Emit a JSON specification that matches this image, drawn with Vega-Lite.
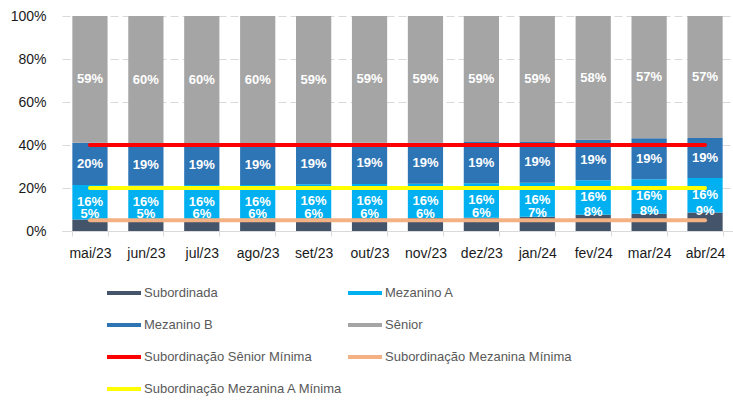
{
  "$schema": "https://vega.github.io/schema/vega-lite/v6.json",
  "width": 671,
  "height": 215,
  "autosize": {"type": "none"},
  "padding": {"left": 62, "top": 16, "right": 0, "bottom": 170},
  "config": {"view": {"stroke": null}, "font": "Liberation Sans"},
  "datasets": {
    "bars": [
      {"month": "mai/23", "series": "Subordinada", "rank": 1, "value": 0.054},
      {"month": "mai/23", "series": "Mezanino A", "rank": 2, "value": 0.160},
      {"month": "mai/23", "series": "Mezanino B", "rank": 3, "value": 0.196},
      {"month": "mai/23", "series": "Sênior", "rank": 4, "value": 0.590},
      {"month": "jun/23", "series": "Subordinada", "rank": 1, "value": 0.054},
      {"month": "jun/23", "series": "Mezanino A", "rank": 2, "value": 0.158},
      {"month": "jun/23", "series": "Mezanino B", "rank": 3, "value": 0.192},
      {"month": "jun/23", "series": "Sênior", "rank": 4, "value": 0.596},
      {"month": "jul/23", "series": "Subordinada", "rank": 1, "value": 0.056},
      {"month": "jul/23", "series": "Mezanino A", "rank": 2, "value": 0.158},
      {"month": "jul/23", "series": "Mezanino B", "rank": 3, "value": 0.190},
      {"month": "jul/23", "series": "Sênior", "rank": 4, "value": 0.596},
      {"month": "ago/23", "series": "Subordinada", "rank": 1, "value": 0.057},
      {"month": "ago/23", "series": "Mezanino A", "rank": 2, "value": 0.157},
      {"month": "ago/23", "series": "Mezanino B", "rank": 3, "value": 0.189},
      {"month": "ago/23", "series": "Sênior", "rank": 4, "value": 0.597},
      {"month": "set/23", "series": "Subordinada", "rank": 1, "value": 0.058},
      {"month": "set/23", "series": "Mezanino A", "rank": 2, "value": 0.160},
      {"month": "set/23", "series": "Mezanino B", "rank": 3, "value": 0.191},
      {"month": "set/23", "series": "Sênior", "rank": 4, "value": 0.591},
      {"month": "out/23", "series": "Subordinada", "rank": 1, "value": 0.059},
      {"month": "out/23", "series": "Mezanino A", "rank": 2, "value": 0.160},
      {"month": "out/23", "series": "Mezanino B", "rank": 3, "value": 0.192},
      {"month": "out/23", "series": "Sênior", "rank": 4, "value": 0.589},
      {"month": "nov/23", "series": "Subordinada", "rank": 1, "value": 0.060},
      {"month": "nov/23", "series": "Mezanino A", "rank": 2, "value": 0.160},
      {"month": "nov/23", "series": "Mezanino B", "rank": 3, "value": 0.192},
      {"month": "nov/23", "series": "Sênior", "rank": 4, "value": 0.588},
      {"month": "dez/23", "series": "Subordinada", "rank": 1, "value": 0.062},
      {"month": "dez/23", "series": "Mezanino A", "rank": 2, "value": 0.160},
      {"month": "dez/23", "series": "Mezanino B", "rank": 3, "value": 0.192},
      {"month": "dez/23", "series": "Sênior", "rank": 4, "value": 0.586},
      {"month": "jan/24", "series": "Subordinada", "rank": 1, "value": 0.066},
      {"month": "jan/24", "series": "Mezanino A", "rank": 2, "value": 0.159},
      {"month": "jan/24", "series": "Mezanino B", "rank": 3, "value": 0.189},
      {"month": "jan/24", "series": "Sênior", "rank": 4, "value": 0.586},
      {"month": "fev/24", "series": "Subordinada", "rank": 1, "value": 0.076},
      {"month": "fev/24", "series": "Mezanino A", "rank": 2, "value": 0.160},
      {"month": "fev/24", "series": "Mezanino B", "rank": 3, "value": 0.188},
      {"month": "fev/24", "series": "Sênior", "rank": 4, "value": 0.576},
      {"month": "mar/24", "series": "Subordinada", "rank": 1, "value": 0.080},
      {"month": "mar/24", "series": "Mezanino A", "rank": 2, "value": 0.161},
      {"month": "mar/24", "series": "Mezanino B", "rank": 3, "value": 0.190},
      {"month": "mar/24", "series": "Sênior", "rank": 4, "value": 0.569},
      {"month": "abr/24", "series": "Subordinada", "rank": 1, "value": 0.086},
      {"month": "abr/24", "series": "Mezanino A", "rank": 2, "value": 0.160},
      {"month": "abr/24", "series": "Mezanino B", "rank": 3, "value": 0.187},
      {"month": "abr/24", "series": "Sênior", "rank": 4, "value": 0.567}
    ],
    "limits": [
      {"month": "mai/23", "series": "Subordinação Sênior Mínima", "value": 0.40},
      {"month": "jun/23", "series": "Subordinação Sênior Mínima", "value": 0.40},
      {"month": "jul/23", "series": "Subordinação Sênior Mínima", "value": 0.40},
      {"month": "ago/23", "series": "Subordinação Sênior Mínima", "value": 0.40},
      {"month": "set/23", "series": "Subordinação Sênior Mínima", "value": 0.40},
      {"month": "out/23", "series": "Subordinação Sênior Mínima", "value": 0.40},
      {"month": "nov/23", "series": "Subordinação Sênior Mínima", "value": 0.40},
      {"month": "dez/23", "series": "Subordinação Sênior Mínima", "value": 0.40},
      {"month": "jan/24", "series": "Subordinação Sênior Mínima", "value": 0.40},
      {"month": "fev/24", "series": "Subordinação Sênior Mínima", "value": 0.40},
      {"month": "mar/24", "series": "Subordinação Sênior Mínima", "value": 0.40},
      {"month": "abr/24", "series": "Subordinação Sênior Mínima", "value": 0.40},
      {"month": "mai/23", "series": "Subordinação Mezanina Mínima", "value": 0.05},
      {"month": "jun/23", "series": "Subordinação Mezanina Mínima", "value": 0.05},
      {"month": "jul/23", "series": "Subordinação Mezanina Mínima", "value": 0.05},
      {"month": "ago/23", "series": "Subordinação Mezanina Mínima", "value": 0.05},
      {"month": "set/23", "series": "Subordinação Mezanina Mínima", "value": 0.05},
      {"month": "out/23", "series": "Subordinação Mezanina Mínima", "value": 0.05},
      {"month": "nov/23", "series": "Subordinação Mezanina Mínima", "value": 0.05},
      {"month": "dez/23", "series": "Subordinação Mezanina Mínima", "value": 0.05},
      {"month": "jan/24", "series": "Subordinação Mezanina Mínima", "value": 0.05},
      {"month": "fev/24", "series": "Subordinação Mezanina Mínima", "value": 0.05},
      {"month": "mar/24", "series": "Subordinação Mezanina Mínima", "value": 0.05},
      {"month": "abr/24", "series": "Subordinação Mezanina Mínima", "value": 0.05},
      {"month": "mai/23", "series": "Subordinação Mezanina A Mínima", "value": 0.20},
      {"month": "jun/23", "series": "Subordinação Mezanina A Mínima", "value": 0.20},
      {"month": "jul/23", "series": "Subordinação Mezanina A Mínima", "value": 0.20},
      {"month": "ago/23", "series": "Subordinação Mezanina A Mínima", "value": 0.20},
      {"month": "set/23", "series": "Subordinação Mezanina A Mínima", "value": 0.20},
      {"month": "out/23", "series": "Subordinação Mezanina A Mínima", "value": 0.20},
      {"month": "nov/23", "series": "Subordinação Mezanina A Mínima", "value": 0.20},
      {"month": "dez/23", "series": "Subordinação Mezanina A Mínima", "value": 0.20},
      {"month": "jan/24", "series": "Subordinação Mezanina A Mínima", "value": 0.20},
      {"month": "fev/24", "series": "Subordinação Mezanina A Mínima", "value": 0.20},
      {"month": "mar/24", "series": "Subordinação Mezanina A Mínima", "value": 0.20},
      {"month": "abr/24", "series": "Subordinação Mezanina A Mínima", "value": 0.20}
    ]
  },
  "encoding": {
    "x": {
      "field": "month",
      "type": "nominal",
      "sort": ["mai/23", "jun/23", "jul/23", "ago/23", "set/23", "out/23", "nov/23", "dez/23", "jan/24", "fev/24", "mar/24", "abr/24"],
      "scale": {"paddingInner": 0.37, "paddingOuter": 0.185},
      "axis": {
        "title": null,
        "labelAngle": 0,
        "domainColor": "#d9d9d9",
        "tickColor": "#d9d9d9",
        "tickSize": 5,
        "tickBand": "extent",
        "labelPadding": 10,
        "labelFontSize": 14,
        "labelColor": "#1a1a1a"
      }
    }
  },
  "layer": [
    {
      "data": {"name": "bars"},
      "mark": {"type": "bar"},
      "encoding": {
        "y": {
          "field": "value",
          "type": "quantitative",
          "stack": "zero",
          "scale": {"domain": [0, 1]},
          "axis": {
            "title": null,
            "values": [0, 0.2, 0.4, 0.6, 0.8, 1],
            "format": ".0%",
            "domain": false,
            "ticks": false,
            "labelPadding": 16,
            "labelFontSize": 14,
            "labelColor": "#1a1a1a",
            "gridColor": "#d9d9d9",
            "gridDash": [8, 4]
          }
        },
        "color": {
          "field": "series",
          "type": "nominal",
          "scale": {
            "domain": ["Subordinada", "Mezanino B", "Subordinação Sênior Mínima", "Subordinação Mezanina A Mínima", "Mezanino A", "Sênior", "Subordinação Mezanina Mínima"],
            "range": ["#44546A", "#2E75B6", "#FF0000", "#FFFF00", "#00B0F0", "#A5A5A5", "#F4B183"]
          },
          "legend": {
            "orient": "none",
            "legendX": 45,
            "legendY": 260,
            "columns": 2,
            "title": null,
            "symbolType": "M-1,-0.12L1,-0.12L1,0.12L-1,0.12Z",
            "symbolSize": 1156,
            "symbolStrokeWidth": 0,
            "labelFontSize": 13,
            "labelColor": "#595959",
            "labelOffset": 3,
            "rowPadding": 8,
            "columnPadding": 5,
            "labelLimit": 300
          }
        },
        "order": {"field": "rank", "type": "quantitative"}
      }
    },
    {
      "data": {"name": "limits"},
      "mark": {"type": "line", "strokeWidth": 4, "strokeCap": "round"},
      "encoding": {
        "y": {"field": "value", "type": "quantitative"},
        "color": {"field": "series", "type": "nominal", "legend": null}
      }
    },
    {
      "data": {"name": "bars"},
      "transform": [
        {"stack": "value", "groupby": ["month"], "sort": [{"field": "rank"}], "as": ["y0", "y1"]},
        {"calculate": "(datum.y0 + datum.y1) / 2", "as": "mid"},
        {"filter": "datum.series !== 'Subordinada'"}
      ],
      "mark": {"type": "text", "color": "white", "fontWeight": "bold", "fontSize": 13, "baseline": "middle"},
      "encoding": {
        "y": {"field": "mid", "type": "quantitative", "stack": null},
        "text": {"field": "value", "type": "quantitative", "format": ".0%"}
      }
    },
    {
      "data": {"name": "bars"},
      "transform": [
        {"stack": "value", "groupby": ["month"], "sort": [{"field": "rank"}], "as": ["y0", "y1"]},
        {"calculate": "(datum.y0 + datum.y1) / 2", "as": "mid"},
        {"filter": "datum.series === 'Subordinada'"}
      ],
      "mark": {"type": "text", "color": "white", "fontWeight": "bold", "fontSize": 13, "baseline": "middle", "dy": -11},
      "encoding": {
        "y": {"field": "mid", "type": "quantitative", "stack": null},
        "text": {"field": "value", "type": "quantitative", "format": ".0%"}
      }
    }
  ]
}
